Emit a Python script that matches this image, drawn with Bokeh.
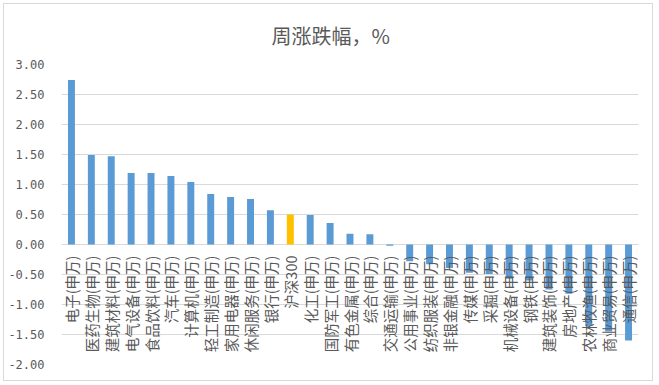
from math import pi
from bokeh.plotting import figure
from bokeh.models import (ColumnDataSource, FactorRange, Range1d, FixedTicker,
                          NumeralTickFormatter)
from bokeh.core.properties import value
from bokeh.embed import file_html
from bokeh.resources import INLINE

title_text = "周涨跌幅，%"
categories = ["电子(申万)", "医药生物(申万)", "建筑材料(申万)", "电气设备(申万)",
              "食品饮料(申万)", "汽车(申万)", "计算机(申万)", "轻工制造(申万)",
              "家用电器(申万)", "休闲服务(申万)", "银行(申万)", "沪深300",
              "化工(申万)", "国防军工(申万)", "有色金属(申万)", "综合(申万)",
              "交通运输(申万)", "公用事业(申万)", "纺织服装(申万)", "非银金融(申万)",
              "传媒(申万)", "采掘(申万)", "机械设备(申万)", "钢铁(申万)",
              "建筑装饰(申万)", "房地产(申万)", "农林牧渔(申万)", "商业贸易(申万)",
              "通信(申万)"]
values = [2.74, 1.49, 1.47, 1.19, 1.19, 1.14, 1.04, 0.84,
          0.79, 0.76, 0.57, 0.50,
          0.49, 0.36, 0.18, 0.17,
          -0.02, -0.28, -0.33, -0.39,
          -0.47, -0.49, -0.57, -0.60,
          -0.75, -0.82, -1.36, -1.45,
          -1.60]
y_ticks = [-2.0, -1.5, -1.0, -0.5, 0.0, 0.5, 1.0, 1.5, 2.0, 2.5, 3.0]

BLUE = "#5b9bd5"
GOLD = "#ffc000"
TXT = "#595959"
FONT = "Noto Sans CJK SC"

colors = [GOLD if c == "沪深300" else BLUE for c in categories]
src = ColumnDataSource(dict(cat=categories, val=values, color=colors,
                            zero=[0] * len(categories)))

p = figure(width=650, height=378, output_backend="svg", toolbar_location=None,
           x_range=FactorRange(factors=categories, range_padding=0),
           y_range=Range1d(-2, 3),
           min_border_left=57, min_border_right=16,
           min_border_top=60, min_border_bottom=18,
           margin=(3, 0, 0, 3),
           styles={"border": "1px solid #d9d9d9"})

p.title.text = title_text
p.title.align = "left"
p.title.offset = 210
p.title.text_font = FONT
p.title.text_font_size = "20px"
p.title.text_font_style = "normal"
p.title.text_color = TXT
p.title.standoff = 29

p.vbar(x="cat", top="val", width=0.35, color="color", source=src, line_color=None)

p.text(x="cat", y="zero", text="cat", source=src, angle=pi / 2,
       text_align="right", text_baseline="middle", y_offset=11,
       text_font=value(FONT), text_font_size="14.5px", text_color=TXT)

p.xaxis.visible = False
p.xgrid.visible = False
p.ygrid.grid_line_color = "#d9d9d9"
p.ygrid.grid_line_width = 1
p.yaxis.ticker = FixedTicker(ticks=y_ticks)
p.yaxis.formatter = NumeralTickFormatter(format="0.00")
p.yaxis.axis_line_color = None
p.yaxis.major_tick_line_color = None
p.yaxis.minor_tick_line_color = None
p.yaxis.major_label_text_font = "DejaVu Sans Mono"
p.yaxis.major_label_text_font_size = "12px"
p.yaxis.major_label_text_color = TXT
p.yaxis.major_label_standoff = 11
p.outline_line_color = None

open("out.html", "w").write(file_html(p, INLINE))
